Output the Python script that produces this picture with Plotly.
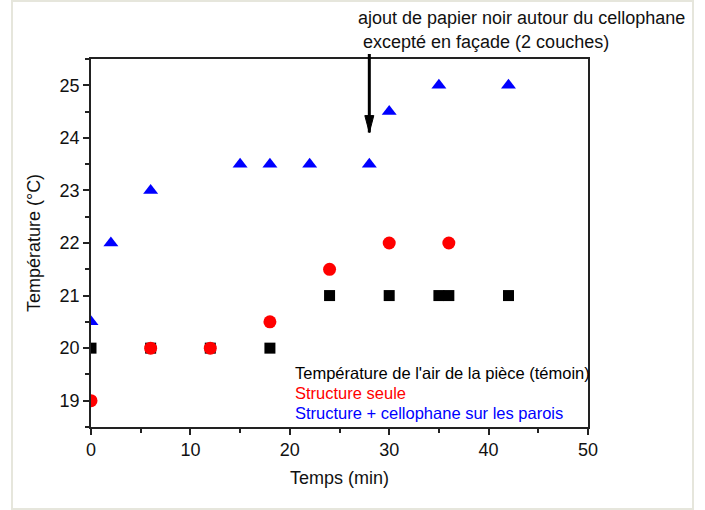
import plotly.graph_objects as go

# Data
temoin_t = [0, 6, 12, 18, 24, 30, 35, 36, 42]
temoin_v = [20, 20, 20, 20, 21, 21, 21, 21, 21]
seule_t = [0, 6, 12, 18, 24, 30, 36]
seule_v = [19, 20, 20, 20.5, 21.5, 22, 22]
cello_t = [0, 2, 6, 15, 18, 22, 28, 30, 35, 42]
cello_v = [20.5, 22, 23, 23.5, 23.5, 23.5, 23.5, 24.5, 25, 25]

legend_labels = ["Température de l'air de la pièce (témoin)",
                 "Structure seule",
                 "Structure + cellophane sur les parois"]
legend_colors = ["#000000", "#ff0000", "#0000ff"]

arrow_x, arrow_y = 28, 24.1

FONT = "Liberation Sans, Arial, sans-serif"

fig = go.Figure()
fig.add_trace(go.Scatter(x=temoin_t, y=temoin_v, mode="markers",
                         marker=dict(symbol="square", size=11, color="#000000"),
                         name=legend_labels[0]))
fig.add_trace(go.Scatter(x=seule_t, y=seule_v, mode="markers",
                         marker=dict(symbol="circle", size=13, color="#ff0000"),
                         name=legend_labels[1]))
fig.add_trace(go.Scatter(x=cello_t, y=cello_v, mode="markers",
                         marker=dict(symbol="triangle-up", size=13, color="#0000ff"),
                         name=legend_labels[2]))

L, R, T, B = 91, 588, 59, 427
W, H = 705, 510
pw, ph = R - L, B - T

def px(x):
    return (x - L) / pw

def py(y):
    return (B - y) / ph

annotations = []
# legend as coloured text
for i, (lab, col) in enumerate(zip(legend_labels, legend_colors)):
    annotations.append(dict(text=lab, xref="paper", yref="paper",
                            x=px(293), y=py(373 + 20 * i), xanchor="left",
                            yanchor="middle", showarrow=False,
                            font=dict(family=FONT, size=16.5, color=col)))
# arrow shaft
annotations.append(dict(x=arrow_x, y=arrow_y, xref="x", yref="y", ax=0, ay=-80,
                        showarrow=True, arrowhead=0, arrowwidth=3,
                        arrowcolor="#000000", text=""))
annotations.append(dict(text="ajout de papier noir autour du cellophane",
                        xref="paper", yref="paper", x=px(521), y=py(18),
                        xanchor="center", yanchor="middle", showarrow=False,
                        font=dict(family=FONT, size=18, color="#111")))
annotations.append(dict(text="excepté en façade (2 couches)",
                        xref="paper", yref="paper", x=px(486), y=py(42),
                        xanchor="center", yanchor="middle", showarrow=False,
                        font=dict(family=FONT, size=18, color="#111")))

shapes = [
    dict(type="rect", xref="paper", yref="paper",
         x0=px(12), x1=px(693), y0=py(509), y1=py(1),
         line=dict(color="#e6e6dc", width=2), layer="below"),
    # arrow head (pixel-sized, anchored at the arrow tip)
    dict(type="path", xref="x", yref="y", xsizemode="pixel", ysizemode="pixel",
         xanchor=arrow_x, yanchor=arrow_y,
         path="M0,0 L-4.5,17 L4.5,17 Z",
         fillcolor="#000000", line=dict(color="#000000", width=1)),
]

axis_common = dict(showgrid=False, zeroline=False, showline=True, mirror=True,
                   linecolor="#222", linewidth=1.5, ticks="outside",
                   ticklen=6, tickwidth=1.5, tickcolor="#222", automargin=False,
                   tickfont=dict(family=FONT, size=18, color="#111"))

fig.update_layout(
    width=W, height=H,
    margin=dict(l=L, r=W - R, t=T, b=H - B, autoexpand=False),
    plot_bgcolor="white", paper_bgcolor="white",
    showlegend=False,
    xaxis=dict(range=[0, 50], tick0=0, dtick=10,
               minor=dict(dtick=5, ticks="outside", ticklen=4, tickcolor="#222", tickwidth=1.5),
               title=dict(text="Temps (min)", font=dict(family=FONT, size=18, color="#111"), standoff=12),
               **axis_common),
    yaxis=dict(range=[18.5, 25.5], tick0=19, dtick=1,
               minor=dict(dtick=0.5, ticks="outside", ticklen=4, tickcolor="#222", tickwidth=1.5),
               title=dict(text="Température (°C)", font=dict(family=FONT, size=18, color="#111"), standoff=14),
               **axis_common),
    annotations=annotations,
    shapes=shapes,
)

fig.write_html("out.html", config={"displayModeBar": False},
               post_script="document.body.style.margin='0';")
